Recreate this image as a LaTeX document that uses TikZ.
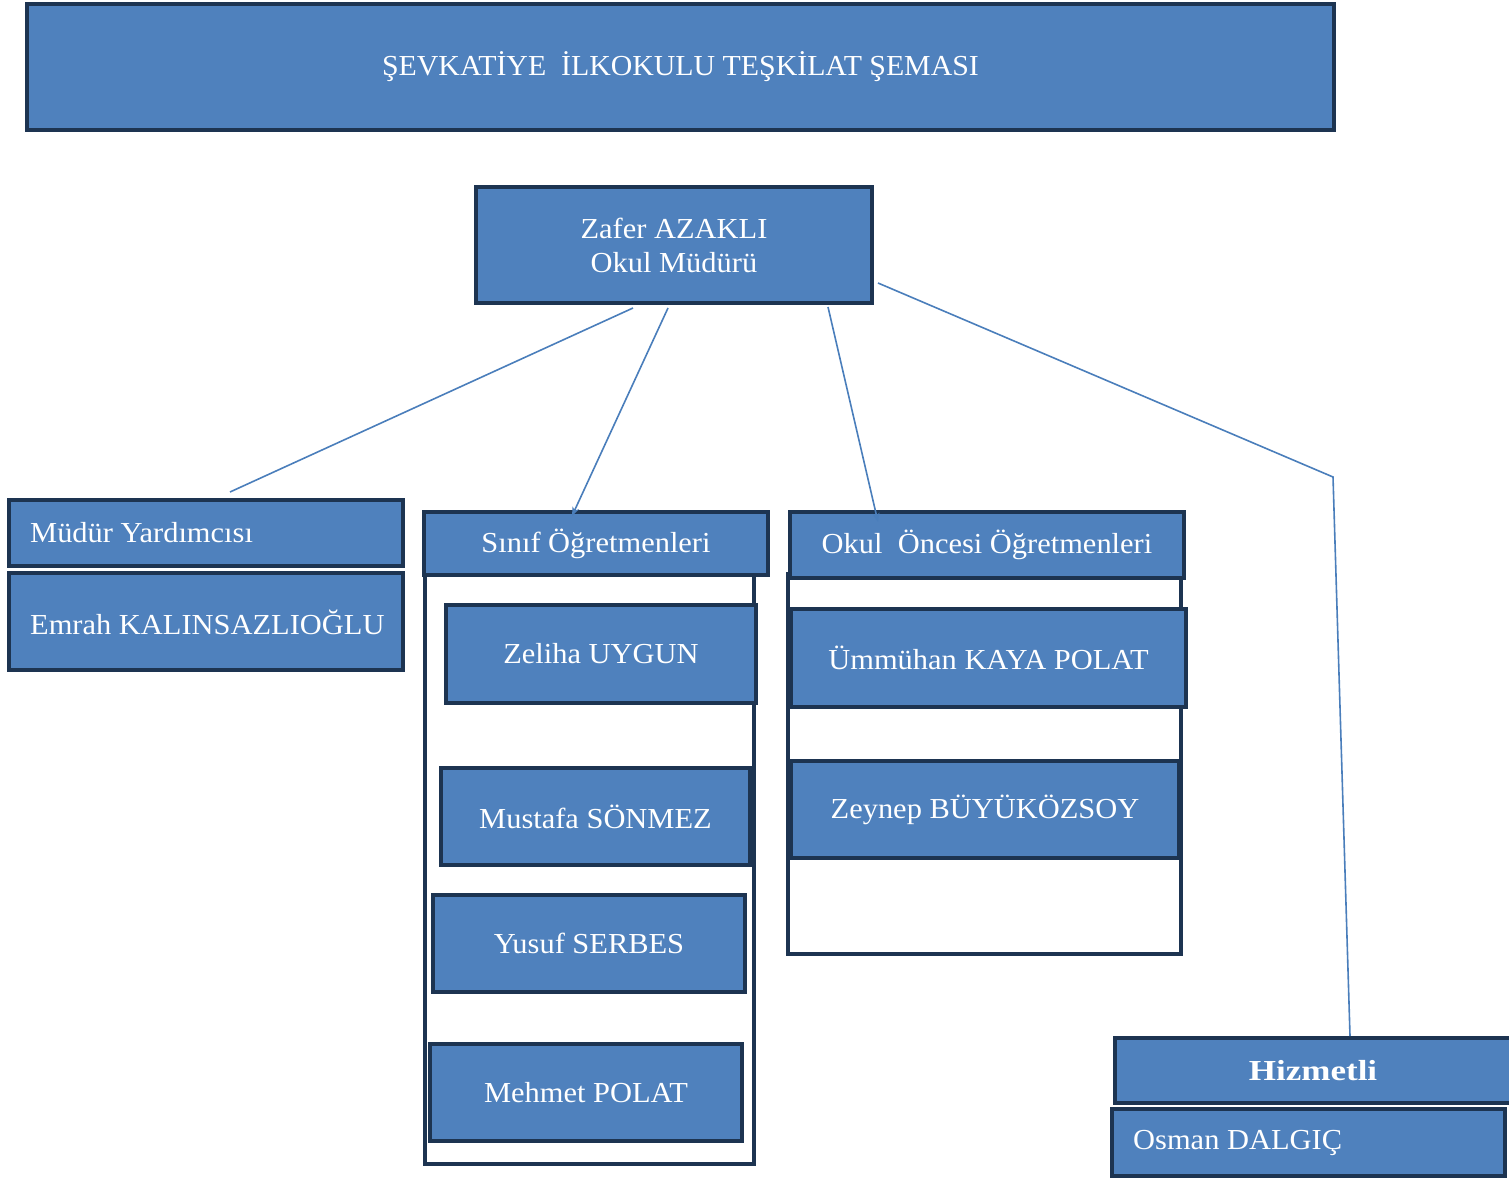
\documentclass[tikz,border=0pt]{standalone}
\usepackage{fontspec}
\setmainfont{Liberation Serif}[FakeStretch=1.05]
\usetikzlibrary{arrows.meta}
\definecolor{boxfill}{HTML}{4F81BD}
\definecolor{boxline}{HTML}{1D3451}
\definecolor{conn}{HTML}{4A7EBB}
\newcommand{\bx}[7]{%
  \node[#6, minimum width={(#4)-(#2)}, minimum height={(#5)-(#3)}] (#1) at ({((#2)+(#4))/2},{((#3)+(#5))/2}) {#7};}
\begin{document}
\begin{tikzpicture}[x=1pt,y=-1pt,
  every node/.style={font=\fontsize{29}{33}\selectfont, text=white},
  box/.style={draw=boxline, line width=4.8pt, fill=boxfill, inner sep=0pt, align=center},
  frame/.style={draw=boxline, line width=3.8pt, fill=white, inner sep=0pt},
  lefttext/.style={anchor=west, inner sep=0pt},
  conline/.style={draw=conn, line width=1.6pt},
  conarrow/.style={conline, -{Stealth[length=9pt,width=7pt]}}]
\useasboundingbox (0,0) rectangle (1509,1180);
% title
\bx{title}{27}{4}{1334}{130}{box}{\scalebox{0.98}[1]{ŞEVKATİYE\ \ İLKOKULU TEŞKİLAT ŞEMASI}}
% director
\bx{dir}{476}{187}{872}{303}{box}{Zafer AZAKLI\\[1pt]Okul Müdürü}
% vice
\bx{vice}{9}{500}{403}{566}{box}{}
\node[lefttext] (vicet) at (30,533) {Müdür Yardımcısı};
\bx{emrah}{9}{573}{403}{670}{box}{}
\node[lefttext] (emraht) at (30,622) {Emrah KALINSAZLIOĞLU};
% class teachers
\bx{sframe}{425}{574}{754}{1164}{frame}{}
\bx{sinif}{424}{512}{768}{575}{box}{Sınıf Öğretmenleri}
\bx{zeliha}{446}{605}{756}{703}{box}{Zeliha UYGUN}
\bx{mustafa}{441}{768}{750}{865}{box}{Mustafa SÖNMEZ}
\bx{yusuf}{433}{895}{745}{992}{box}{Yusuf SERBES}
\bx{mehmet}{430}{1044}{742}{1141}{box}{Mehmet POLAT}
% preschool
\bx{oframe}{788}{574}{1181}{954}{frame}{}
\bx{okul}{790}{512}{1184}{578}{box}{Okul\ \ Öncesi Öğretmenleri}
\bx{ummuhan}{791}{609}{1186}{707}{box}{Ümmühan KAYA POLAT}
\bx{zeynep}{791}{761}{1179}{858}{box}{Zeynep BÜYÜKÖZSOY}
% staff
\bx{hiz}{1115}{1038}{1511}{1103}{box}{\scalebox{1.15}[1]{\textbf{Hizmetli}}}
\bx{osman}{1112}{1109}{1505}{1176}{box}{}
\node[lefttext] (osmant) at (1133,1143) {Osman DALGIÇ};
% connectors
\coordinate (c1a) at (633,308);
\coordinate (c1b) at (230,492);
\coordinate (c2a) at (668,308);
\coordinate (c2b) at (572,516);
\coordinate (c3a) at (828,307);
\coordinate (c3b) at (878,522);
\coordinate (c4a) at (878,283);
\coordinate (c4b) at (1333,477);
\coordinate (c4c) at (1350,1036);
\draw[conline] (c1a) -- (c1b);
\draw[conarrow] (c2a) -- (c2b);
\draw[conarrow] (c3a) -- (c3b);
\draw[conline] (c4a) -- (c4b) -- (c4c);
\end{tikzpicture}
\end{document}
